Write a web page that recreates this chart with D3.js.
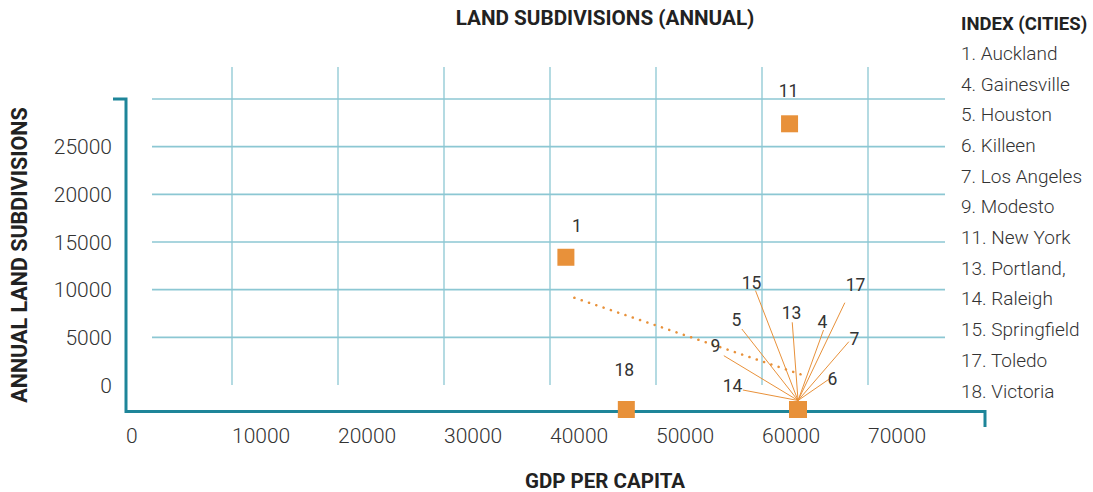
<!DOCTYPE html>
<html>
<head>
<meta charset="utf-8">
<script src="https://cdn.jsdelivr.net/npm/d3@7"></script>
<style>
  body { margin: 0; background: #fff; }
  svg { display: block; font-family: Roboto, "Noto Sans", sans-serif; }
</style>
</head>
<body>
<div class="chart"></div>
<script>
// land subdivisions vs gdp per capita

var cityIds   = [1, 4, 5, 6, 7, 9, 11, 13, 14, 15, 17, 18];
var cityNames = ['Auckland', 'Gainesville', 'Houston', 'Killeen', 'Los Angeles', 'Modesto',
                 'New York', 'Portland,', 'Raleigh', 'Springfield', 'Toledo', 'Victoria'];
var gdpValues = [41500, 63400, 63400, 63400, 63400, 63400, 62600, 63400, 63400, 63400, 63400, 47200];
var subValues = [13400, -2570, -2570, -2570, -2570, -2570, 27400, -2570, -2570, -2570, -2570, -2570];

// dotted trend line (gdp, subdivisions)
var trendGdp = [42300, 64300];
var trendSub = [9150, 870];

var xTicks = [0, 10000, 20000, 30000, 40000, 50000, 60000, 70000];
var yTicks = [0, 5000, 10000, 15000, 20000, 25000];
var yGrid  = [5000, 10000, 15000, 20000, 25000, 30000];

// label placement in px from the square: [labelDx, labelDy, lineStartDx, lineStartDy]
// (no line start = no leader line)
var labelPos = {
  1:  [11, -31.5],
  11: [-1, -33.5],
  18: [-2, -39.5],
  4:  [24.5, -87.5, 25.5, -79.5],
  5:  [-61.5, -89.5, -56.2, -80.5],
  6:  [34.5, -30.5, 30.8, -30.2],
  7:  [56.5, -70.5, 50.8, -67.8],
  9:  [-82.5, -63.5, -74.2, -53.8],
  13: [-6.5, -96.5, -5.8, -87.2],
  14: [-65.5, -23.5, -55.2, -19.5],
  15: [-46.5, -126.5, -42.5, -118.8],
  17: [57.5, -124.5, 46.8, -106.8]
};

var width = 1093, height = 492;
var orange = '#e8913a', axisColor = '#1e8599', gridColor = '#8cc7d3', textColor = '#333';

var svg = d3.select('.chart').append('svg')
  .attr('width', width)
  .attr('height', height);

var x = d3.scaleLinear().domain([0, 70000]).range([126, 868]);
var y = d3.scaleLinear().domain([0, 30000]).range([385, 99]);

// grid
svg.append('g').selectAll('line')
  .data(xTicks.slice(1))
  .enter().append('line')
  .attr('x1', function(d){ return x(d) })
  .attr('x2', function(d){ return x(d) })
  .attr('y1', 67)
  .attr('y2', 385)
  .attr('stroke', gridColor)
  .attr('stroke-width', 1.3);

svg.append('g').selectAll('line')
  .data(yGrid)
  .enter().append('line')
  .attr('x1', 152)
  .attr('x2', 945)
  .attr('y1', function(d){ return y(d) })
  .attr('y2', function(d){ return y(d) })
  .attr('stroke', gridColor)
  .attr('stroke-width', 1.6);

// axes frame
var baseY = 411.5;
svg.append('path')
  .attr('d', 'M113,' + y(30000) + 'H' + x(0) + 'V' + baseY + 'H985V427')
  .attr('fill', 'none')
  .attr('stroke', axisColor)
  .attr('stroke-width', 3);

// tick labels
svg.append('g').selectAll('text')
  .data(xTicks)
  .enter().append('text')
  .attr('x', function(d){ return x(d) })
  .attr('y', 443)
  .attr('font-size', 21)
  .attr('font-weight', 300)
  .attr('fill', textColor)
  .text(function(d){ return d });

svg.append('g').selectAll('text')
  .data(yTicks)
  .enter().append('text')
  .attr('x', 112)
  .attr('y', function(d){ return y(d) })
  .attr('dy', '0.36em')
  .attr('text-anchor', 'end')
  .attr('font-size', 21)
  .attr('font-weight', 300)
  .attr('fill', textColor)
  .text(function(d){ return d });

// titles
svg.append('text')
  .attr('x', 605).attr('y', 25)
  .attr('text-anchor', 'middle')
  .attr('font-size', 20.7).attr('font-weight', 700)
  .attr('fill', '#222')
  .text('LAND SUBDIVISIONS (ANNUAL)');

svg.append('text')
  .attr('x', 605).attr('y', 488)
  .attr('text-anchor', 'middle')
  .attr('font-size', 20.5).attr('font-weight', 700)
  .attr('fill', '#222')
  .text('GDP PER CAPITA');

svg.append('text')
  .attr('transform', 'translate(27,255) rotate(-90)')
  .attr('text-anchor', 'middle')
  .attr('font-size', 21.5).attr('font-weight', 700)
  .attr('fill', '#222')
  .text('ANNUAL LAND SUBDIVISIONS');

// trend line
svg.append('line')
  .attr('x1', x(trendGdp[0])).attr('y1', y(trendSub[0]))
  .attr('x2', x(trendGdp[1])).attr('y2', y(trendSub[1]))
  .attr('stroke', orange)
  .attr('stroke-width', 2.5)
  .attr('stroke-linecap', 'round')
  .attr('stroke-dasharray', '0.1,7.6');

var cities = cityIds.map(function(id, i){
  return { id: id, name: cityNames[i], gdp: gdpValues[i], sub: subValues[i] };
});

// leader lines
svg.append('g').selectAll('line')
  .data(cities.filter(function(d){ return labelPos[d.id].length > 2 }))
  .enter().append('line')
  .attr('x1', function(d){ return x(d.gdp) + labelPos[d.id][2] })
  .attr('y1', function(d){ return y(d.sub) + labelPos[d.id][3] })
  .attr('x2', function(d){ return x(d.gdp) })
  .attr('y2', function(d){ return y(d.sub) - 9 })
  .attr('stroke', orange)
  .attr('stroke-width', 1);

// squares
var size = 17;
svg.append('g').selectAll('rect')
  .data(cities)
  .enter().append('rect')
  .attr('x', function(d){ return x(d.gdp) - size / 2 })
  .attr('y', function(d){ return y(d.sub) - size / 2 })
  .attr('width', size)
  .attr('height', size)
  .attr('fill', orange);

// point labels
svg.append('g').selectAll('text')
  .data(cities)
  .enter().append('text')
  .attr('x', function(d){ return x(d.gdp) + labelPos[d.id][0] })
  .attr('y', function(d){ return y(d.sub) + labelPos[d.id][1] })
  .attr('dy', '0.36em')
  .attr('text-anchor', 'middle')
  .attr('font-size', 17.5)
  .attr('fill', textColor)
  .text(function(d){ return d.id });

// index legend
svg.append('text')
  .attr('x', 961).attr('y', 30)
  .attr('font-size', 18.5).attr('font-weight', 700)
  .attr('fill', '#222')
  .text('INDEX (CITIES)');

svg.append('g').selectAll('text')
  .data(cities)
  .enter().append('text')
  .attr('x', 961)
  .attr('y', function(d, i){ return 53 + i * 30.7 })
  .attr('dy', '0.36em')
  .attr('font-size', 19)
  .attr('font-weight', 300)
  .attr('fill', textColor)
  .text(function(d){ return d.id + '. ' + d.name });
</script>
</body>
</html>
